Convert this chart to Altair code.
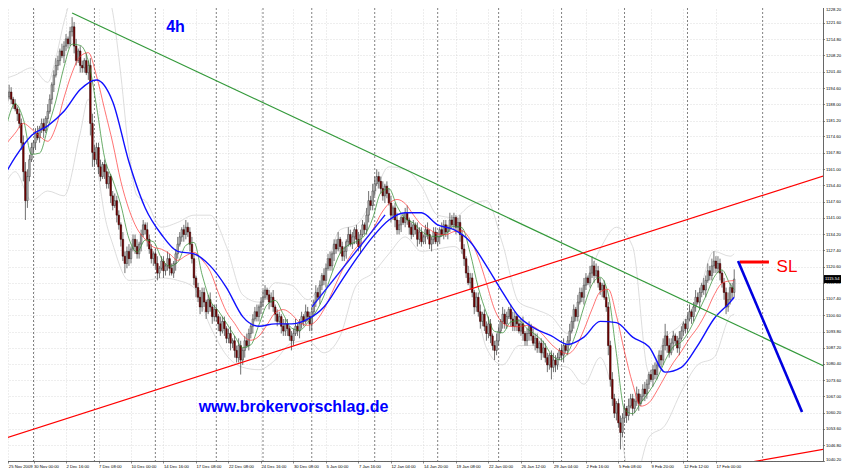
import json

import altair as alt
import pandas as pd

# 4h candles, bar 0 = 25 Nov 2009 08:00; open of each bar = previous close
first_open = 1180
closes = [
    1182, 1186, 1189, 1191, 1193, 1190, 1188, 1186, 1184, 1180, 1172, 1160, 1148, 1158, 1165, 1170,
    1172, 1176, 1174, 1178, 1180, 1177, 1182, 1185, 1190, 1196, 1200, 1204, 1206, 1210, 1208, 1212, 1215, 1213,
    1218, 1220, 1212, 1206, 1210, 1204, 1203, 1206, 1201, 1204, 1180, 1168,
    1165, 1170, 1162, 1158, 1163, 1160, 1155, 1158, 1150, 1146, 1148, 1142, 1138, 1132, 1125,
    1122, 1127, 1124, 1128, 1132, 1129, 1126, 1130, 1134, 1138, 1136, 1132, 1128, 1124, 1126,
    1122, 1118, 1120, 1123, 1119, 1121, 1124, 1120, 1118, 1122, 1126, 1130, 1133, 1136, 1134,
    1137, 1135, 1130, 1124, 1116, 1112, 1108, 1104, 1110, 1106, 1102, 1107, 1104, 1100, 1103,
    1100, 1097, 1094, 1098, 1095, 1091, 1093, 1089, 1090, 1086, 1083, 1088, 1082, 1086, 1090,
    1088, 1093, 1096, 1099, 1102, 1100, 1104, 1106,
    1108, 1111, 1109, 1106, 1108, 1104, 1101, 1098, 1100, 1096, 1094, 1097, 1095, 1092, 1090,
    1093, 1096, 1094, 1097, 1100, 1098, 1102, 1100, 1097,
    1102, 1106, 1110, 1108, 1113, 1117, 1115, 1120, 1124, 1121, 1126, 1130, 1128, 1132, 1129, 1125,
    1127, 1131, 1134, 1130, 1133, 1136, 1132, 1129, 1134, 1138, 1136, 1142, 1148, 1146, 1152,
    1155, 1158, 1156, 1153, 1150, 1154, 1151, 1147, 1142, 1145, 1140, 1136, 1138, 1141, 1139, 1143,
    1140, 1137, 1134, 1138, 1136, 1132, 1135, 1131, 1133, 1136, 1134, 1130, 1132, 1135, 1131,
    1133, 1136, 1134, 1138, 1135, 1137, 1140, 1138, 1141, 1137, 1139, 1134, 1128, 1124, 1118,
    1114, 1116, 1110, 1104, 1108, 1102, 1098, 1101, 1096, 1093, 1097, 1092, 1088, 1086, 1090,
    1094, 1098, 1101, 1097, 1100, 1103, 1099, 1096, 1100, 1097, 1094, 1097, 1093, 1090, 1093, 1096,
    1092, 1089, 1091, 1087, 1089, 1085, 1087, 1083, 1080, 1084, 1079, 1082, 1080, 1083, 1086,
    1084, 1088, 1086, 1090, 1094, 1098, 1103, 1100, 1106, 1110, 1108, 1113, 1116, 1114, 1118, 1121,
    1117, 1119, 1114, 1111, 1113, 1108, 1104, 1088, 1074, 1066, 1060, 1064, 1056, 1052, 1058,
    1062, 1059, 1063, 1066, 1062, 1065, 1068, 1064, 1067, 1070, 1068, 1072, 1076, 1074, 1078, 1076,
    1080, 1084, 1082, 1088, 1092, 1088, 1085, 1089, 1092, 1090, 1087, 1091, 1094, 1097, 1095,
    1099, 1102, 1100, 1104, 1108, 1106, 1110, 1113, 1111, 1115, 1119, 1117,
    1121, 1123, 1120, 1122, 1118, 1114, 1110, 1104, 1107, 1112, 1110, 1115.54,
]
upper_wicks = [
    2, 3, 1, 2, 3, 2, 1, 2, 1, 2, 2, 3, 4, 3, 2, 2,
    1, 2, 3, 1, 2, 2, 1, 3, 2, 1, 2, 3, 2, 1, 3, 2, 2, 1,
    2, 4, 2, 3, 1, 2, 2, 1, 3, 2, 3, 4,
    3, 2, 2, 3, 1, 2, 3, 2, 1, 2, 3, 2, 2, 1, 3, 2, 2, 3, 1, 2, 2, 3, 1, 2, 2, 1, 3, 2, 2, 1,
    2, 3, 1, 2, 2, 1, 3, 2, 2, 1, 2, 3, 2, 1, 2, 3, 2, 2, 3, 2, 1, 2, 3, 2, 2, 1, 2, 3, 1, 2,
    2, 1, 3, 2, 2, 1, 2, 3, 1, 2, 2, 3, 2, 1, 2, 3, 2, 1, 2, 2, 3, 1, 2,
    3, 2, 1, 2, 2, 3, 1, 2, 2, 1, 3, 2, 2, 1, 2, 2, 3, 1, 2, 2, 1, 3, 2, 2,
    2, 1, 3, 2, 2, 1, 3, 2, 2, 3, 1, 2, 2, 3, 1, 2, 2, 1, 3, 2, 2, 1, 2, 3, 2, 2, 1, 3, 4, 2, 3,
    3, 3, 2, 2, 3, 1, 2, 2, 3, 1, 2, 3, 2, 1, 2, 2, 3, 1, 2, 2, 1, 3, 2, 2, 1, 2, 3, 2, 1, 2, 2,
    2, 1, 3, 2, 2, 1, 3, 2, 2, 1, 2, 3, 2, 2, 1, 3, 2, 2, 1, 2, 2, 3, 1, 2, 2, 3, 2, 1, 2, 3,
    2, 1, 3, 2, 2, 1, 2, 3, 2, 1, 2, 2, 3, 1, 2, 2, 1, 3, 2, 2, 1, 2, 3, 2, 2, 1, 2, 3, 2, 2, 1,
    2, 3, 1, 2, 3, 2, 2, 1, 3, 2, 2, 3, 2, 1, 3, 4, 2, 3, 2, 2, 1, 2, 3, 2, 2, 3, 2, 1, 2, 3, 2,
    2, 1, 3, 2, 2, 1, 3, 2, 1, 2, 3, 2, 1, 2, 2, 3, 1, 2, 2, 3, 5, 2, 3, 2, 2, 1, 2, 3, 2, 1, 2,
    2, 3, 1, 2, 3, 2, 2, 1, 3, 2, 3, 2, 3, 4, 2, 3, 2, 1, 2, 2, 3, 2, 2, 4,
]
lower_wicks = [
    2, 1, 2, 3, 1, 2, 2, 1, 3, 2, 3, 4, 8, 3, 2, 1,
    2, 3, 1, 2, 2, 3, 1, 2, 1, 2, 3, 1, 2, 2, 1, 3, 2, 2,
    1, 2, 3, 2, 1, 3, 2, 2, 1, 3, 5, 6,
    3, 2, 3, 2, 1, 3, 2, 2, 3, 2, 1, 3, 2, 3, 2, 4, 2, 3, 2, 1, 3, 2, 2, 3, 1, 2, 3, 2, 2, 3,
    2, 3, 2, 1, 3, 2, 2, 3, 1, 2, 3, 2, 1, 2, 3, 2, 2, 3, 2, 3, 4, 2, 3, 2, 2, 3, 1, 2, 3, 2,
    2, 3, 2, 1, 3, 2, 2, 3, 2, 3, 2, 2, 6, 2, 3, 1, 2, 2, 3, 1, 2, 2, 3,
    2, 1, 2, 3, 2, 2, 3, 2, 1, 3, 2, 2, 3, 2, 4, 2, 1, 2, 3, 2, 2, 1, 2, 3,
    3, 2, 2, 1, 3, 2, 2, 3, 1, 2, 2, 3, 2, 1, 3, 2, 2, 3, 2, 1, 2, 3, 2, 2, 3, 1, 2, 2, 3, 2, 2,
    2, 1, 3, 2, 2, 3, 2, 1, 3, 2, 3, 2, 2, 3, 1, 2, 2, 3, 2, 1, 2, 3, 2, 2, 1, 3, 2, 2, 3, 2, 1,
    2, 3, 1, 2, 2, 3, 2, 1, 2, 3, 2, 3, 2, 3, 2, 1, 3, 2, 3, 2, 2, 3, 2, 2, 3, 2, 3, 2, 4, 2,
    2, 1, 3, 2, 2, 1, 3, 2, 2, 3, 1, 2, 3, 2, 2, 3, 2, 1, 3, 2, 2, 3, 2, 2, 3, 2, 5, 2, 3, 2, 1,
    2, 3, 1, 2, 2, 1, 3, 2, 2, 1, 2, 3, 2, 1, 2, 2, 3, 1, 2, 2, 3, 1, 2, 4, 3, 3, 2, 3, 2, 7, 2,
    2, 3, 2, 1, 3, 2, 2, 3, 1, 2, 3, 2, 2, 1, 3, 2, 2, 1, 3, 2, 2, 3, 2, 1, 3, 2, 2, 3, 1, 2, 2,
    2, 1, 3, 2, 2, 1, 3, 2, 2, 3, 1, 2, 2, 3, 2, 2, 3, 2, 3, 3, 2, 2, 3, 2,
]

ma_fast_bars = list(range(3, 360, 4)) + [361]
ma_fast = [
    1180, 1188.2, 1181.7, 1167.2, 1167.7, 1178, 1189.3, 1203.3, 1212.8, 1212.3, 1205.8,
    1187.2, 1165.8, 1156.6, 1146.2, 1132.3, 1126.7, 1131.7, 1131, 1124.2, 1120.9,
    1122.5, 1129.5, 1130.7, 1117.4, 1106.7, 1102.4, 1097.3, 1092, 1087.2, 1088.3,
    1096.6, 1104.9, 1106.7, 1100.9, 1095.3, 1094.3, 1097.5, 1101.9, 1108.6, 1118.1,
    1126.3, 1129.6, 1131.1, 1133.6, 1140.7, 1151.3, 1153, 1145.7, 1140.6, 1138.8,
    1135.4, 1133.4, 1133.1, 1134.3, 1137.4, 1136.8, 1126.3, 1112, 1101.5, 1093.9,
    1093.3, 1097.8, 1098.3, 1095, 1092.6, 1089.5, 1084.3, 1082.1, 1084.9, 1092.9,
    1104, 1113.3, 1116.3, 1109.3, 1084.7, 1061.5, 1059.8, 1064.3, 1068.8, 1074.3,
    1081.8, 1087.5, 1089.5, 1094.4, 1101.4, 1108.4, 1116.2, 1119.3, 1113.4, 1111.3,
]
ma_mid = [
    1172, 1176, 1180, 1177.7, 1174.7, 1172.6, 1178.5, 1190.6, 1201, 1207.8, 1209.3,
    1199.7, 1185.8, 1171.9, 1156, 1144.4, 1136.4, 1132, 1128.8, 1127.9, 1126,
    1123.3, 1125.2, 1126.6, 1123.5, 1118.7, 1109.9, 1102, 1097.2, 1092.2, 1090.2,
    1091.9, 1096.6, 1101.6, 1102.9, 1101, 1097.6, 1096.4, 1098.1, 1103, 1110,
    1117.4, 1123.8, 1128.7, 1131.6, 1135.9, 1142.4, 1146.8, 1148.5, 1146.8, 1142.2,
    1138, 1136.1, 1134.2, 1133.9, 1135.2, 1135.5, 1131.8, 1124.4, 1113.9, 1103,
    1097.4, 1095.9, 1095.8, 1096.4, 1095.5, 1092.3, 1088.5, 1085.8, 1084.6, 1087.5,
    1094.5, 1103.1, 1110.2, 1111.3, 1100.5, 1085.4, 1072.2, 1062.9, 1064.3, 1069.3,
    1075.3, 1080.9, 1085.6, 1091, 1095.5, 1101.4, 1108.8, 1113.8, 1114.8, 1114.9,
]
ma_slow_bars = [0] + list(range(7, 360, 8)) + [361]
ma_slow = [
    1156, 1166, 1175, 1179, 1185, 1194, 1198, 1189, 1164, 1145,
    1134, 1127, 1126, 1121, 1112, 1100, 1096, 1097, 1097, 1099,
    1104, 1114, 1124, 1133, 1140, 1143, 1143, 1138, 1136, 1131,
    1121, 1110, 1100, 1095, 1092, 1088.5, 1091.5, 1098, 1097.5, 1091.5,
    1087.5, 1077, 1079, 1088, 1099, 1106, 1108,
]
band_upper_bars = [
    0, 7, 15, 23, 27, 31, 35, 39, 47, 51, 55, 59, 63, 67, 71, 79, 87, 95, 103, 111,
    119, 127, 135, 143, 151, 159, 167, 175, 183, 191, 199, 207, 215, 223, 231, 239,
    247, 255, 263, 271, 279, 287, 295, 303, 311, 319, 327, 335, 343, 351, 359, 361,
]
band_upper = [
    1198, 1200, 1203, 1197, 1207, 1222, 1233, 1240, 1243, 1238, 1226, 1200, 1168, 1150, 1148, 1137, 1139, 1142, 1142, 1129,
    1109, 1106, 1114, 1113, 1107, 1117, 1136, 1138, 1149, 1162, 1161, 1154, 1142, 1141, 1146, 1148,
    1130, 1106, 1103, 1100, 1093, 1112, 1128, 1137, 1129, 1077, 1091, 1097, 1108, 1127, 1125, 1126,
]
band_lower_bars = [
    0, 7, 15, 23, 31, 39, 43, 47, 51, 55, 63, 71, 79, 87, 95, 103, 111, 119, 127, 135,
    143, 151, 159, 167, 175, 183, 191, 199, 207, 215, 223, 231, 239, 247, 255, 263,
    271, 279, 287, 295, 303, 311, 319, 327, 335, 343, 351, 359, 361,
]
band_lower = [
    1150, 1160, 1148, 1152, 1150, 1176, 1190, 1165, 1142, 1130, 1115, 1115, 1116, 1115, 1112, 1096, 1084, 1079, 1078, 1082,
    1089, 1090, 1085, 1092, 1113, 1118, 1126, 1133, 1127, 1128, 1129, 1118, 1087, 1080, 1088, 1088,
    1080, 1079, 1072, 1083, 1062, 1030, 1050, 1055, 1069, 1080, 1083, 1100, 1101,
]

# axes (first label nudged right so it stays inside the page)
x_label_bars = [3.6] + list(range(16, 353, 16))
x_label_text = [
    "25 Nov 2009", "30 Nov 00:00", "2 Dec 16:00", "7 Dec 08:00", "10 Dec 00:00", "14 Dec 16:00",
    "17 Dec 08:00", "22 Dec 08:00", "24 Dec 16:00", "30 Dec 08:00", "5 Jan 00:00", "7 Jan 16:00",
    "12 Jan 04:00", "14 Jan 20:00", "19 Jan 08:00", "22 Jan 00:00", "26 Jan 12:00", "29 Jan 04:00",
    "2 Feb 16:00", "5 Feb 08:00", "9 Feb 20:00", "12 Feb 12:00", "17 Feb 00:00",
]
y_ticks = [
    1228.2, 1221.6, 1214.8, 1208.2, 1201.4, 1194.6, 1188.0, 1181.2, 1174.6, 1167.8, 1161.0,
    1154.4, 1147.6, 1141.0, 1134.2, 1127.4, 1120.6, 1114.0, 1107.4, 1100.6, 1093.8, 1087.2,
    1080.4, 1073.6, 1067.0, 1060.2, 1053.6, 1046.8, 1040.2,
]
week_starts = [16, 46, 76, 106, 129, 153, 184, 215, 245, 276, 307, 338, 375]

# hand-drawn objects (bar, price end points)
green_trend = ([35.0, 406.2], [1225.7, 1079.1])
red_trend_upper = ([-0.5, 406.2], [1048.9, 1158.6])
red_trend_lower = ([361.4, 406.2], [1038.6, 1045.2])
blue_channel = ([153.1, 189.1], [1104.0, 1142.1])
stop_loss = ([363.8, 378.1], [1122.6, 1122.6])
blue_target = ([362.9, 394.4], [1123.0, 1060.5])

notes_text = ["4h", "www.brokervorschlag.de", "SL"]
notes_bar = [85.9, 144.0, 387.0]
notes_price = [1217.9, 1060.5, 1118.5]

UP_FILL, UP_EDGE = "#b4b4b4", "#3c3c3c"
DOWN_FILL, DOWN_EDGE = "#7a0000", "#2a0000"
FONT = "Liberation Sans"
TICK_FONT_SIZE = 4.2

x_scale = alt.Scale(domain=[-0.5, 404.72], nice=False, zero=False, padding=0)
y_scale = alt.Scale(domain=[1040.2, 1231.1], nice=False, zero=False, padding=0)

label_expr = f"{json.dumps(x_label_text)}[indexof({json.dumps(x_label_bars)}, datum.value)]"
x_axis = alt.Axis(
    values=x_label_bars, labelExpr=label_expr, labelAlign="left", labelBaseline="top",
    labelFont=FONT, labelFontSize=TICK_FONT_SIZE, labelColor="#000000", labelPadding=1,
    labelOverlap=False, labelFlush=False, tickSize=2, tickColor="#404040", tickWidth=0.6,
    domainColor="#404040", domainWidth=0.8, grid=True, gridColor="#c8c8c8",
    gridDash=[1, 2], gridWidth=0.6, title=None,
)
y_axis = alt.Axis(
    orient="right", values=y_ticks, format=".2f", labelFont=FONT, labelFontSize=TICK_FONT_SIZE,
    labelColor="#000000", labelPadding=1, labelOverlap=False, labelFlush=9,
    tickSize=1.5, tickColor="#404040", tickWidth=0.6, domainColor="#404040",
    domainWidth=0.8, grid=True, gridColor="#c8c8c8", gridDash=[1, 2], gridWidth=0.6,
    title=None,
)


def X(field="bar"):
    return alt.X(f"{field}:Q", scale=x_scale, axis=x_axis)


def Y(field="price"):
    return alt.Y(f"{field}:Q", scale=y_scale, axis=y_axis)


candles = pd.DataFrame({
    "bar": range(len(closes)),
    "open": [first_open] + closes[:-1],
    "close": closes,
})
candles["high"] = candles[["open", "close"]].max(axis=1) + upper_wicks
candles["low"] = candles[["open", "close"]].min(axis=1) - lower_wicks
candles["dir"] = (candles["close"] >= candles["open"]).map({True: "up", False: "down"})

separators = alt.Chart(pd.DataFrame({"bar": week_starts})).mark_rule(
    color="#4a4a4a", strokeDash=[2, 2], strokeWidth=0.7, clip=True
).encode(x=X())


def line_layer(bars, values, color, width, opacity=1.0):
    frame = pd.DataFrame({"bar": bars, "price": values})
    return alt.Chart(frame).mark_line(
        color=color, strokeWidth=width, opacity=opacity, interpolate="monotone", clip=True
    ).encode(x=X(), y=Y())


def segment_layer(points, color, width):
    bars, prices = points
    frame = pd.DataFrame({"bar": [bars[0]], "price": [prices[0]], "bar2": [bars[1]], "price2": [prices[1]]})
    return alt.Chart(frame).mark_rule(color=color, strokeWidth=width, clip=True).encode(
        x=X(), y=Y(), x2="bar2:Q", y2="price2:Q"
    )


wicks = alt.Chart(candles).mark_rule(color="#4d4d4d", strokeWidth=0.8, clip=True).encode(
    x=X(), y=Y("low"), y2="high:Q"
)
bodies = alt.Chart(candles).mark_bar(size=1.6, strokeWidth=0.5, clip=True).encode(
    x=X(), y=Y("open"), y2="close:Q",
    color=alt.Color("dir:N", scale=alt.Scale(domain=["up", "down"], range=[UP_FILL, DOWN_FILL]), legend=None),
    stroke=alt.Stroke("dir:N", scale=alt.Scale(domain=["up", "down"], range=[UP_EDGE, DOWN_EDGE]), legend=None),
)

notes = pd.DataFrame({"bar": notes_bar, "price": notes_price, "text": notes_text})
note_4h = alt.Chart(notes.iloc[[0]]).mark_text(
    font=FONT, fontSize=16, fontWeight="bold", color="#0000ff", align="center", baseline="alphabetic"
).encode(x=X(), y=Y(), text="text:N")
note_site = alt.Chart(notes.iloc[[1]]).mark_text(
    font=FONT, fontSize=16, fontWeight="bold", color="#0000ff", align="center", baseline="alphabetic"
).encode(x=X(), y=Y(), text="text:N")
note_sl = alt.Chart(notes.iloc[[2]]).mark_text(
    font=FONT, fontSize=17, color="#ff0000", align="center", baseline="alphabetic"
).encode(x=X(), y=Y(), text="text:N")

last_price = pd.DataFrame({"price": [closes[-1]], "label": [f"{closes[-1]:.2f}"]})
price_box = alt.Chart(last_price).mark_tick(
    orient="horizontal", size=17, thickness=8, color="#000000", opacity=1
).encode(x=alt.value(832.5), y=Y())
price_text = alt.Chart(last_price).mark_text(
    font=FONT, fontSize=TICK_FONT_SIZE, color="#ffffff", align="left", baseline="middle"
).encode(x=alt.value(825), y=Y(), text="label:N")

chart = alt.layer(
    separators,
    line_layer(band_upper_bars, band_upper, "#d4d4d4", 0.8),
    line_layer(band_lower_bars, band_lower, "#d4d4d4", 0.8),
    wicks,
    bodies,
    line_layer(ma_fast_bars, ma_fast, "#2e8b2e", 0.8, 0.9),
    line_layer(ma_fast_bars, ma_mid, "#ff3030", 0.8, 0.85),
    line_layer(ma_slow_bars, ma_slow, "#1010ff", 1.4),
    segment_layer(green_trend, "#33993a", 1.2),
    segment_layer(red_trend_upper, "#ff0000", 1.2),
    segment_layer(red_trend_lower, "#ff0000", 1.2),
    segment_layer(blue_channel, "#1a1aff", 1.4),
    segment_layer(stop_loss, "#ff0000", 3),
    segment_layer(blue_target, "#0000e0", 2.6),
    note_4h,
    note_site,
    note_sl,
    price_box,
    price_text,
).properties(
    width=823,
    height=461,
    autosize=alt.AutoSizeParams(type="none"),
    padding={"left": -8, "top": -8, "right": 19, "bottom": 9},
    background="#ffffff",
).configure_view(stroke=None)

chart.save("out.html", embed_options={"renderer": "svg", "actions": False})
